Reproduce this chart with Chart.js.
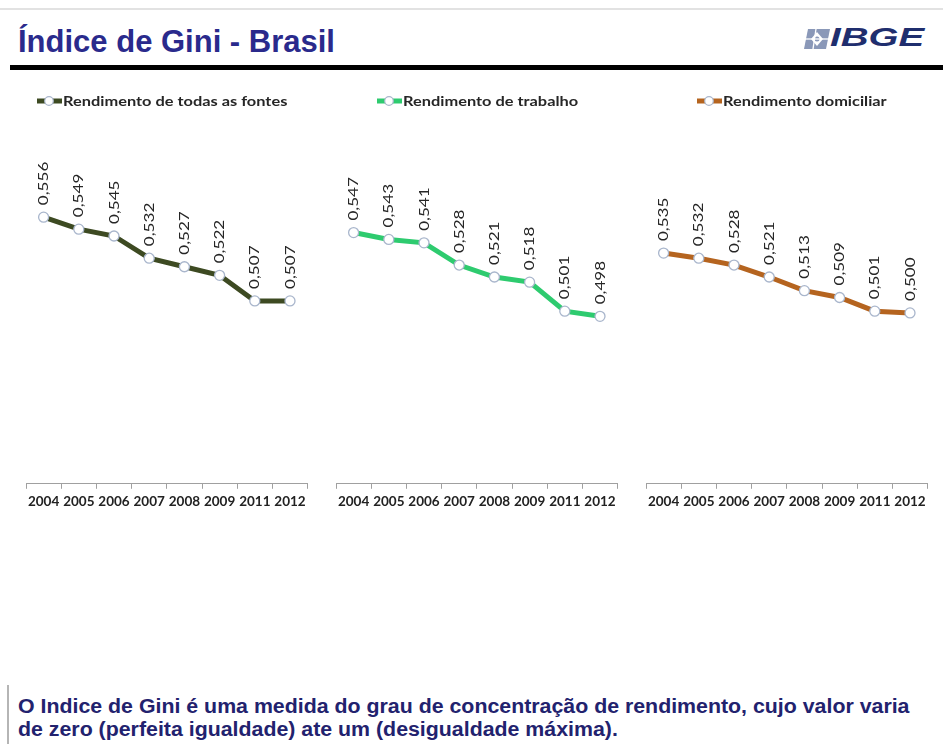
<!DOCTYPE html>
<html><head><meta charset="utf-8">
<script src="https://cdn.jsdelivr.net/npm/chart.js@4"></script>
<style>
html,body{margin:0;padding:0;}
body{width:943px;height:744px;background:#fff;position:relative;overflow:hidden;font-family:"Liberation Sans",Arial,sans-serif;}
#topline{position:absolute;left:0;top:8px;width:943px;height:2px;background:#e2e2e2;}
#title{position:absolute;left:18px;top:24px;font-size:31px;line-height:36px;font-weight:bold;color:#2a2a8c;white-space:nowrap;}
#logo{position:absolute;left:804px;top:29px;}
#logotext{position:absolute;left:830px;top:22px;font-size:26px;font-weight:bold;font-style:italic;color:#1f2e6e;white-space:nowrap;transform-origin:0 0;transform:scaleX(1.48);}
#rule{position:absolute;left:10px;top:65px;width:933px;height:5px;background:#000;}
canvas{position:absolute;}
#bar{position:absolute;left:7px;top:685px;width:2px;height:60px;background:#b5b5b5;}
#note{position:absolute;left:18px;top:695px;font-size:19.5px;line-height:23px;font-weight:bold;color:#22226e;white-space:nowrap;transform-origin:0 0;transform:scaleX(1.094);}
</style></head>
<body>
<div id="topline"></div>
<div id="title">Índice de Gini - Brasil</div>
<svg id="logo" width="26" height="20" viewBox="0 0 26 20">
  <polygon points="4,0 26,0 22,20 0,20" fill="#8a98b8"/>
  <polygon points="13,3 19,10 13,17 7,10" fill="#ffffff"/>
  <circle cx="13" cy="10" r="2.5" fill="#8a98b8"/>
  <line x1="12" y1="0" x2="9" y2="20" stroke="#fff" stroke-width="1.3"/>
  <line x1="1" y1="10" x2="25" y2="10" stroke="#fff" stroke-width="1.3"/>
</svg>
<div id="logotext">IBGE</div>
<div id="rule"></div>
<canvas id="c1" width="300" height="430" style="left:16px;top:85px"></canvas>
<canvas id="c2" width="300" height="430" style="left:326px;top:85px"></canvas>
<canvas id="c3" width="300" height="430" style="left:636px;top:85px"></canvas>
<div id="bar"></div>
<div id="note">O Indice de Gini é uma medida do grau de concentração de rendimento, cujo valor varia<br>de zero (perfeita igualdade) ate um (desigualdade máxima).</div>
<script>
const years = ['2004','2005','2006','2007','2008','2009','2011','2012'];
const todasFontes = [0.556,0.549,0.545,0.532,0.527,0.522,0.507,0.507];
const trabalho = [0.547,0.543,0.541,0.528,0.521,0.518,0.501,0.498];
const domiciliar = [0.535,0.532,0.528,0.521,0.513,0.509,0.501,0.500];
const seriesNames = ['Rendimento de todas as fontes','Rendimento de trabalho','Rendimento domiciliar'];
const seriesColors = ['#3d4a22','#2ecb6f','#b5641f'];
const legendX = [21, 51, 61];

const labelPlugin = {
  id: 'rotLabels',
  afterDatasetsDraw(chart) {
    const ctx = chart.ctx;
    const meta = chart.getDatasetMeta(0);
    const data = chart.data.datasets[0].data;
    ctx.save();
    ctx.font = '14px Lato, "Open Sans", sans-serif';
    ctx.fillStyle = '#262626';
    ctx.textAlign = 'left';
    ctx.textBaseline = 'middle';
    meta.data.forEach((pt, i) => {
      ctx.save();
      ctx.translate(pt.x, pt.y - 12);
      ctx.rotate(-Math.PI / 2);
      ctx.scale(1.22, 1);
      ctx.fillText(data[i].toFixed(3).replace('.', ','), 0, 0);
      ctx.restore();
    });
    ctx.restore();
  }
};
const legendPlugin = {
  id: 'customLegend',
  afterDraw(chart, args, opts) {
    const ctx = chart.ctx;
    const ds = chart.data.datasets[0];
    const x = opts.x, y = opts.y;
    ctx.save();
    ctx.strokeStyle = ds.borderColor;
    ctx.lineWidth = 5;
    ctx.beginPath(); ctx.moveTo(x, y); ctx.lineTo(x + 25, y); ctx.stroke();
    ctx.beginPath(); ctx.arc(x + 12, y, 4.3, 0, Math.PI * 2);
    ctx.fillStyle = '#fff'; ctx.fill();
    ctx.lineWidth = 1.2; ctx.strokeStyle = '#a9b6cc'; ctx.stroke();
    ctx.font = 'bold 14px Lato, "Open Sans", sans-serif';
    ctx.fillStyle = '#262626';
    ctx.textBaseline = 'middle';
    ctx.translate(x + 26, y);
    ctx.scale(1.17, 1);
    ctx.fillText(ds.label, 0, 0);
    ctx.restore();
  }
};

function makeChart(id, values, idx) {
  return new Chart(document.getElementById(id), {
    type: 'line',
    data: {
      labels: years,
      datasets: [{
        label: seriesNames[idx],
        data: values,
        borderColor: seriesColors[idx],
        borderWidth: 5,
        tension: 0,
        pointRadius: 5,
        pointBackgroundColor: '#ffffff',
        pointBorderColor: '#a9b6cc',
        pointBorderWidth: 1.3,
        clip: false
      }]
    },
    options: {
      responsive: false,
      animation: false,
      devicePixelRatio: 1,
      layout: { padding: { left: 10, right: 8.4, top: 57, bottom: 0 } },
      plugins: {
        legend: { display: false },
        tooltip: { enabled: false },
        customLegend: { x: legendX[idx], y: 16 }
      },
      scales: {
        y: { display: false, min: 0.4, max: 0.6 },
        x: {
          offset: true,
          grid: { drawOnChartArea: false, tickLength: 5, color: '#a0a0a0', offset: true },
          border: { color: '#a0a0a0', width: 1 },
          ticks: { color: '#222', padding: 5, maxRotation: 0, autoSkip: false,
                   font: { family: 'Lato, "Open Sans", sans-serif', size: 13.5, weight: 'bold' } }
        }
      }
    },
    plugins: [labelPlugin, legendPlugin]
  });
}
makeChart('c1', todasFontes, 0);
makeChart('c2', trabalho, 1);
makeChart('c3', domiciliar, 2);
</script>
</body></html>
